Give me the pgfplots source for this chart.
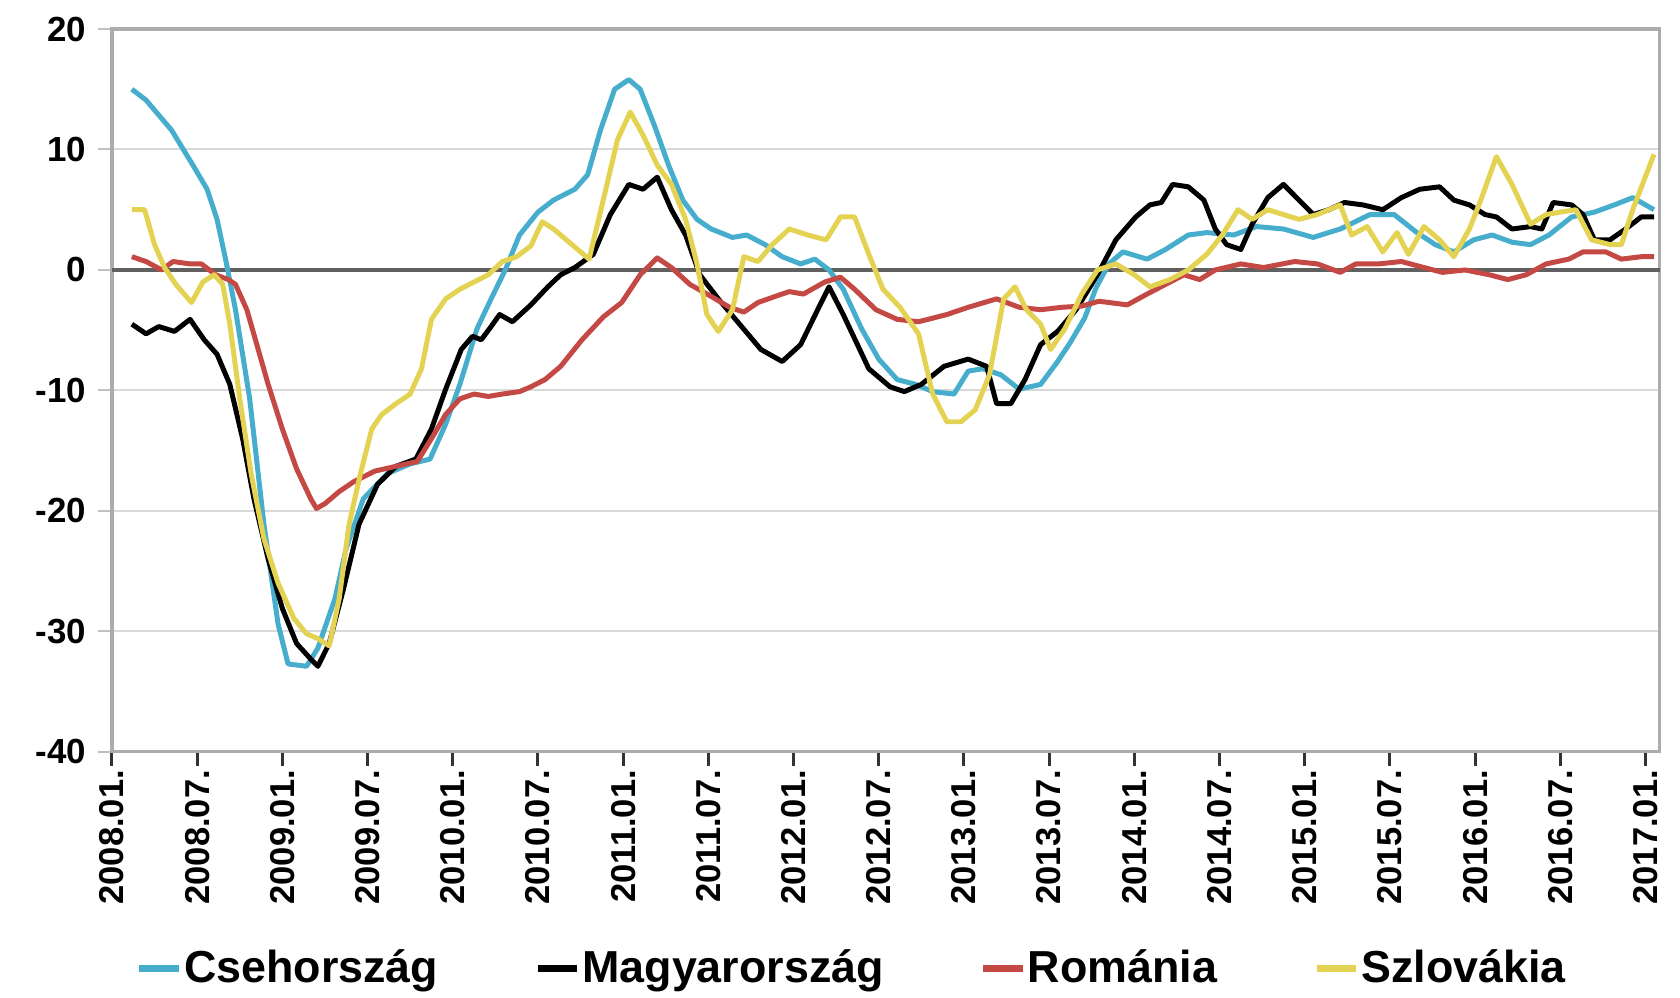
\documentclass[border=0pt]{standalone}
\usepackage{fontspec}
\setmainfont{Liberation Sans}
\usepackage{pgfplots}
\pgfplotsset{compat=1.18}

\definecolor{cseh}{RGB}{70,174,204}
\definecolor{roman}{RGB}{196,72,68}
\definecolor{szlov}{RGB}{228,210,82}

\begin{document}
\begin{tikzpicture}
\useasboundingbox (-1.185cm,-2.60cm) rectangle (16.595cm,7.957cm);
\begin{axis}[
    scale only axis,
    width=16.38cm, height=7.65cm,
    xmin=0, xmax=109,
    ymin=-40, ymax=20,
    xtick={0,6,...,108},
    xticklabels={2008.01.,2008.07.,2009.01.,2009.07.,2010.01.,2010.07.,2011.01.,2011.07.,2012.01.,2012.07.,2013.01.,2013.07.,2014.01.,2014.07.,2015.01.,2015.07.,2016.01.,2016.07.,2017.01.},
    ytick={-40,-30,-20,-10,0,10,20},
    yticklabels={-40,-30,-20,-10,0,10,20},
    xtick pos=bottom, ytick pos=left,
    tick align=outside,
    major tick length=0.15cm,
    x tick style={black!80, line width=0.9pt},
    y tick style={gray!50, line width=0.6pt},
    x tick label style={rotate=90, anchor=east, inner sep=1pt, font=\fontsize{10.4}{12}\selectfont\bfseries},
    y tick label style={font=\fontsize{10.5}{12}\selectfont\bfseries},
    ymajorgrids,
    grid style={gray!30, line width=0.6pt},
    extra y ticks={0},
    extra y tick labels={},
    extra y tick style={grid style={gray!75!black, line width=1pt}, major tick length=0pt},
    axis line style={gray!65, line width=1pt},
    legend style={at={(0.478,-0.30)}, anchor=center, draw=none, fill=none,
        legend columns=4,
        font=\fontsize{13.5}{15}\selectfont\bfseries,
        nodes={inner xsep=0.5pt},
        /tikz/every even column/.append style={column sep=1.0cm}},
    legend image code/.code={\draw[#1, line width=2pt] (0cm,0cm) -- (0.42cm,0cm);},
    every axis plot/.append style={line width=1.5pt, line join=round},
]
% Csehorszag
\addplot[cseh] coordinates {
(1.4,15.0)(2.4,14.1)(4.2,11.6)(5.7,8.7)(6.7,6.7)(7.4,4.2)(8.0,0.9)(8.7,-3.3)(9.7,-10.7)(10.7,-21.1)(11.7,-29.4)(12.4,-32.7)(13.7,-32.9)(14.5,-31.4)(15.7,-27.3)(16.5,-23.1)(17.7,-19.0)(19.4,-16.9)(21.0,-16.1)(22.4,-15.7)(23.5,-12.8)(24.5,-9.5)(25.7,-4.9)(26.7,-2.4)(27.7,0)(28.7,2.9)(30.0,4.8)(31.1,5.8)(32.6,6.7)(33.5,7.9)(34.4,11.6)(35.4,15.0)(36.4,15.8)(37.2,15.0)(38.2,12.0)(39.2,8.7)(40.2,5.8)(41.2,4.2)(42.2,3.4)(43.7,2.7)(44.7,2.9)(46.0,2.1)(47.2,1.1)(48.5,0.5)(49.5,0.9)(50.5,0)(51.5,-1.6)(52.8,-4.9)(54.0,-7.4)(55.3,-9.1)(56.6,-9.5)(57.8,-10.1)(59.3,-10.3)(60.3,-8.4)(61.3,-8.2)(62.6,-8.7)(63.9,-9.9)(65.4,-9.5)(66.6,-7.6)(67.5,-6.0)(68.5,-4.0)(69.3,-1.5)(70.2,0.5)(71.2,1.5)(72.9,0.9)(74.2,1.7)(75.8,2.9)(77.1,3.1)(79.0,2.9)(80.6,3.6)(82.5,3.4)(84.6,2.7)(86.5,3.4)(88.6,4.6)(90.3,4.6)(91.9,3.1)(93.2,2.1)(94.5,1.5)(95.9,2.5)(97.2,2.9)(98.6,2.3)(99.9,2.1)(101.2,2.9)(102.8,4.4)(104.4,4.8)(105.8,5.4)(107.1,6.0)(108.6,5.0)
};
\addlegendentry{Csehország}
% Magyarorszag
\addplot[black] coordinates {
(1.4,-4.5)(2.4,-5.3)(3.3,-4.7)(4.4,-5.1)(5.5,-4.1)(6.5,-5.8)(7.4,-7.0)(8.3,-9.5)(9.2,-14)(10,-19)(11,-24)(12,-28.1)(13,-31)(14,-32.3)(14.5,-32.9)(15.3,-31)(16.3,-26.5)(17.4,-21.1)(18.7,-17.8)(20,-16.3)(21.4,-15.7)(22.5,-13.2)(23.5,-9.9)(24.6,-6.6)(25.4,-5.5)(26,-5.8)(26.7,-4.7)(27.3,-3.7)(28.2,-4.3)(29.5,-2.9)(30.7,-1.4)(31.6,-0.4)(32.6,0.2)(33.9,1.3)(35.1,4.6)(36.4,7.1)(37.4,6.7)(38.4,7.7)(39.4,5.0)(40.4,2.9)(41.4,-0.4)(42.7,-2.4)(44.2,-4.5)(45.7,-6.6)(47.2,-7.6)(48.5,-6.2)(49.7,-3.3)(50.5,-1.4)(51.5,-3.7)(53.3,-8.2)(54.8,-9.7)(55.8,-10.1)(57,-9.5)(58.6,-8.0)(60.3,-7.4)(61.6,-8.0)(62.3,-11.1)(63.3,-11.1)(64.3,-9.1)(65.4,-6.2)(66.6,-5.1)(67.9,-3.3)(69.4,-0.4)(70.7,2.5)(72.1,4.4)(73.1,5.4)(73.9,5.6)(74.7,7.1)(75.8,6.9)(76.9,5.8)(77.7,3.4)(78.5,2.1)(79.5,1.7)(80.3,3.8)(81.4,6.0)(82.5,7.1)(83.6,5.8)(84.6,4.6)(85.7,5.0)(86.8,5.6)(88.1,5.4)(89.5,5.0)(90.8,6.0)(92.1,6.7)(93.5,6.9)(94.5,5.8)(95.6,5.4)(96.7,4.6)(97.5,4.4)(98.6,3.4)(99.9,3.6)(100.7,3.4)(101.5,5.6)(102.8,5.4)(103.6,4.6)(104.4,2.5)(105.5,2.5)(106.6,3.4)(107.7,4.4)(108.6,4.4)
};
\addlegendentry{Magyarország}
% Romania
\addplot[roman] coordinates {
(1.4,1.1)(2.4,0.7)(3.5,0)(4.3,0.7)(5.5,0.5)(6.3,0.5)(7.3,-0.4)(8.2,-0.8)(8.7,-1.2)(9.5,-3.3)(10.3,-6.6)(11,-9.5)(12,-13.2)(13,-16.5)(14,-19)(14.4,-19.8)(15,-19.4)(16,-18.4)(17,-17.6)(18.5,-16.7)(20,-16.3)(21.5,-15.9)(22.5,-14)(23.5,-12)(24.5,-10.7)(25.5,-10.3)(26.5,-10.5)(27.5,-10.3)(28.7,-10.1)(29.5,-9.7)(30.5,-9.1)(31.6,-8.0)(33.1,-5.8)(34.6,-3.9)(35.9,-2.7)(37.2,-0.4)(38.4,1.0)(39.4,0.2)(40.7,-1.2)(42.2,-2.2)(43.5,-3.1)(44.5,-3.5)(45.5,-2.7)(46.7,-2.2)(47.7,-1.8)(48.7,-2.0)(50.2,-1.0)(51.3,-0.6)(52.3,-1.6)(53.8,-3.3)(55.3,-4.1)(56.8,-4.3)(58.8,-3.7)(60.3,-3.1)(62.3,-2.4)(63.9,-3.1)(65.4,-3.3)(66.9,-3.1)(68.3,-3.0)(69.5,-2.6)(70.2,-2.7)(71.5,-2.9)(72.9,-2.0)(74.2,-1.2)(75.5,-0.4)(76.6,-0.8)(77.7,0)(79.5,0.5)(81.1,0.2)(83.3,0.7)(84.9,0.5)(86.5,-0.2)(87.6,0.5)(89.2,0.5)(90.8,0.7)(92.4,0.2)(93.7,-0.2)(95.3,0)(97,-0.4)(98.3,-0.8)(99.6,-0.4)(101,0.5)(102.6,0.9)(103.6,1.5)(105.2,1.5)(106.3,0.9)(107.7,1.1)(108.6,1.1)
};
\addlegendentry{Románia}
% Szlovakia
\addplot[szlov] coordinates {
(1.4,5.0)(2.3,5.0)(3.0,2.1)(3.7,0.2)(4.5,-1.2)(5.6,-2.7)(6.4,-1.0)(7.2,-0.4)(7.8,-1.2)(8.3,-4.5)(9.0,-10.7)(9.8,-16.9)(10.7,-22.3)(11.7,-26)(12.8,-28.9)(13.7,-30.2)(14.5,-30.6)(15.3,-31.2)(16,-27.3)(16.7,-21.1)(17.5,-16.9)(18.3,-13.2)(19,-12)(20,-11.1)(21,-10.3)(21.8,-8.2)(22.5,-4.1)(23.5,-2.4)(24.5,-1.6)(25.5,-1.0)(26.5,-0.4)(27.5,0.7)(28.5,1.1)(29.5,2.0)(30.3,4.0)(31.1,3.4)(32.4,2.1)(33.6,0.9)(34.6,5.8)(35.6,10.8)(36.5,13.1)(37.4,11.2)(38.4,8.7)(39.4,7.1)(40.4,4.2)(41.2,0.5)(41.9,-3.7)(42.7,-5.1)(43.7,-3.3)(44.5,1.1)(45.5,0.7)(46.5,2.1)(47.7,3.4)(49.0,2.9)(50.3,2.5)(51.3,4.4)(52.3,4.4)(53.3,1.3)(54.3,-1.6)(55.5,-3.1)(56.8,-5.3)(57.8,-10.3)(58.8,-12.6)(59.8,-12.6)(60.8,-11.6)(61.8,-8.7)(62.8,-2.4)(63.6,-1.4)(64.4,-3.3)(65.4,-4.5)(66.1,-6.6)(67.1,-4.9)(68.3,-2.0)(69.4,0)(70.7,0.5)(72,-0.4)(73.1,-1.4)(74.5,-0.8)(75.8,0)(77.1,1.3)(78.2,2.9)(79.3,5.0)(80.3,4.2)(81.4,5.0)(82.5,4.6)(83.6,4.2)(84.9,4.6)(86.5,5.4)(87.3,2.9)(88.4,3.6)(89.5,1.5)(90.5,3.1)(91.3,1.3)(92.4,3.6)(93.5,2.5)(94.5,1.1)(95.6,3.4)(96.4,5.8)(97.5,9.4)(98.6,7.1)(99.9,3.8)(101,4.6)(102,4.8)(103.1,5.0)(104.2,2.5)(105.5,2.1)(106.3,2.1)(107.1,5.0)(108.6,9.6)
};
\addlegendentry{Szlovákia}
\end{axis}
\end{tikzpicture}
\end{document}
